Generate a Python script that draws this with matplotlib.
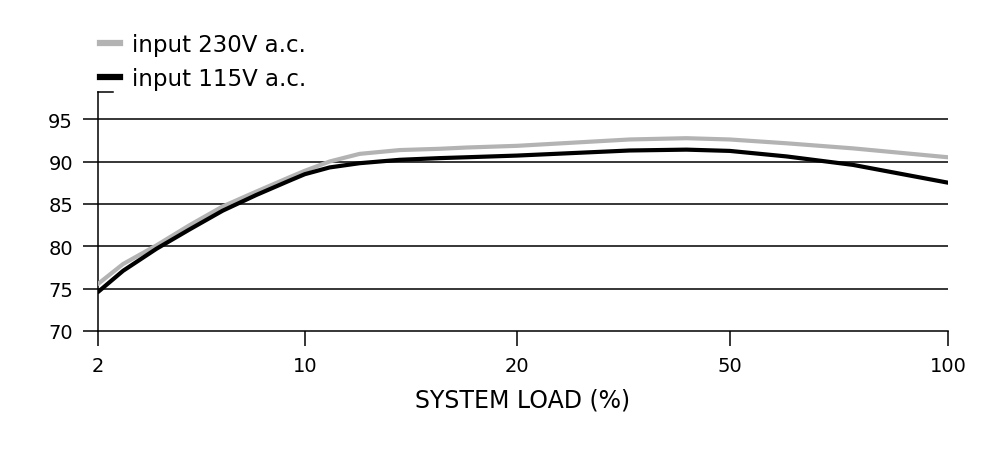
import matplotlib
matplotlib.use("Agg")
import matplotlib.pyplot as plt
from matplotlib.lines import Line2D

# ---- data ----
tick_labels = ["2", "10", "20", "50", "100"]
tick_pos = [0, 0.973, 1.972, 2.973, 4]
x_pts = [0, 0.118, 0.275, 0.432, 0.587, 0.745, 0.902, 0.973, 1.09, 1.231,
         1.42, 1.608, 1.734, 1.972, 2.502, 2.769, 2.973, 3.24, 3.553, 4.0]
eff_230 = [75.55, 77.9, 80.1, 82.5, 84.7, 86.45, 88.15, 88.9, 90.0, 90.9,
           91.35, 91.5, 91.65, 91.85, 92.6, 92.75, 92.6, 92.15, 91.55, 90.5]
eff_115 = [74.6, 77.1, 79.7, 82.0, 84.2, 86.05, 87.75, 88.5, 89.3, 89.8,
           90.2, 90.4, 90.5, 90.7, 91.3, 91.4, 91.25, 90.6, 89.6, 87.5]
y_ticks = [70, 75, 80, 85, 90, 95]
labels = ["input 230V a.c.", "input 115V a.c."]

plt.rcParams['font.family'] = ['DejaVu Sans']

fig = plt.figure(figsize=(10, 4.56), dpi=100)
ax = fig.add_axes([0.098, 0.272, 0.850, 0.524])

for y in y_ticks[1:]:
    ax.axhline(y, color='black', lw=1.1, zorder=1)

ax.plot(x_pts, eff_230, color='#b3b3b3', lw=3.0, solid_capstyle='round',
        solid_joinstyle='round', zorder=3)
ax.plot(x_pts, eff_115, color='black', lw=3.0, solid_capstyle='round',
        solid_joinstyle='round', zorder=4)

ax.set_xlim(0, 4)
ax.set_ylim(70, 98.2)
ax.set_xticks(tick_pos)
ax.set_xticklabels(tick_labels)
ax.set_yticks(y_ticks)
ax.tick_params(axis='both', which='major', labelsize=14, length=11,
               width=1.1, pad=7, color='black')
for s in ['top', 'right']:
    ax.spines[s].set_visible(False)
for s in ['left', 'bottom']:
    ax.spines[s].set_linewidth(1.1)

# little cap at top of y axis
ax.add_line(Line2D([0, 0.0176], [1, 1], transform=ax.transAxes, color='black',
                   lw=1.1, clip_on=False))

ax.set_xlabel("SYSTEM LOAD (%)", fontsize=17, labelpad=9)

h1 = Line2D([], [], color='#b3b3b3', lw=4.5)
h2 = Line2D([], [], color='black', lw=4.5)
fig.legend(handles=[h1, h2], labels=labels, loc='upper left',
           bbox_to_anchor=(0.100, 0.925), frameon=False, fontsize=16.5,
           handlelength=0.87, handletextpad=0.52, labelspacing=0.48,
           borderpad=0, borderaxespad=0)

fig.savefig("out.png", dpi=100)
